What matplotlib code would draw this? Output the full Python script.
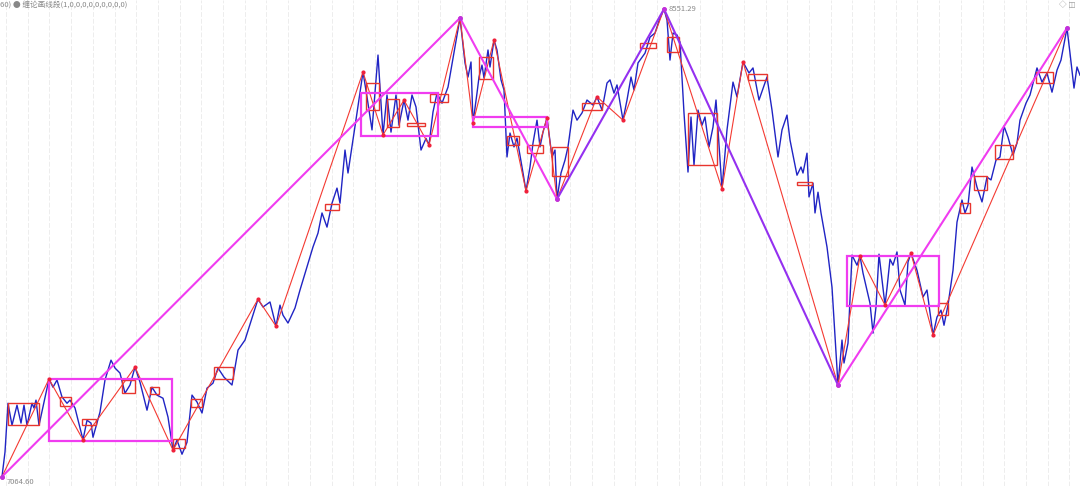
import matplotlib
matplotlib.use("Agg")
import matplotlib.pyplot as plt
from matplotlib.patches import Rectangle

plt.rcParams['font.family'] = ['Noto Sans CJK SC', 'DejaVu Sans']

# ---- level-1 strokes (blue pen): bar index, price ----
pen_x = [2, 5, 8, 12, 17, 21, 24, 27, 32, 34, 36, 39, 49, 53, 57, 62, 67, 70, 75, 83, 87, 91, 93,
         100, 105, 111, 115, 120, 125, 130, 135, 140, 147, 152, 157, 163, 168, 173, 177, 182, 187,
         192, 197, 202, 207, 213, 218, 224, 232, 238, 245, 258, 263, 270, 276, 280, 283, 288, 295,
         300, 310, 313, 318, 322, 327, 332, 337, 340, 345, 348, 353, 357, 363, 367, 372, 378, 383,
         387, 391, 396, 399, 404, 408, 412, 416, 421, 426, 429, 433, 437, 442, 448, 460, 465, 468,
         471, 473, 477, 479, 482, 484, 488, 490, 494, 497, 501, 504, 507, 510, 514, 517, 522, 526,
         530, 533, 537, 540, 543, 547, 552, 555, 557, 561, 565, 568, 573, 577, 582, 587, 593, 597,
         602, 607, 610, 614, 617, 623, 627, 631, 634, 638, 645, 650, 655, 660, 664, 667, 670, 673,
         677, 680, 684, 688, 691, 694, 698, 702, 705, 709, 713, 716, 722, 727, 733, 737, 743, 749,
         753, 759, 767, 772, 778, 782, 787, 790, 797, 801, 803, 807, 809, 813, 815, 818, 821, 827,
         832, 838, 842, 844, 848, 852, 857, 860, 863, 870, 873, 876, 879, 885, 887, 890, 893, 897,
         900, 905, 908, 911, 917, 923, 927, 931, 933, 937, 941, 944, 948, 953, 957, 962, 965, 968,
         972, 977, 982, 987, 991, 996, 1000, 1004, 1008, 1013, 1017, 1020, 1026, 1030, 1037, 1042,
         1047, 1052, 1057, 1061, 1067, 1070, 1074, 1077, 1080]
pen_y = [7064.6, 7143, 7298, 7228, 7292, 7235, 7292, 7228, 7298, 7283, 7308, 7228, 7375, 7349,
         7372, 7318, 7298, 7308, 7283, 7182, 7244, 7235, 7190, 7270, 7372, 7435, 7410, 7394, 7330,
         7356, 7413, 7365, 7276, 7349, 7324, 7314, 7254, 7149, 7181, 7136, 7174, 7324, 7302, 7267,
         7346, 7362, 7410, 7381, 7356, 7467, 7499, 7629, 7604, 7620, 7543, 7610, 7578, 7553, 7601,
         7658, 7763, 7795, 7839, 7903, 7858, 7934, 7982, 7934, 8103, 8030, 8135, 8221, 8351, 8272,
         8167, 8405, 8151, 8278, 8160, 8278, 8182, 8262, 8198, 8278, 8240, 8103, 8140, 8119, 8224,
         8284, 8252, 8303, 8523, 8380, 8335, 8383, 8189, 8284, 8335, 8373, 8332, 8421, 8367, 8453,
         8421, 8326, 8294, 8081, 8157, 8113, 8141, 8049, 7973, 8049, 8125, 8198, 8113, 8160, 8205,
         8081, 8103, 7947, 8030, 8071, 8113, 8230, 8198, 8221, 8262, 8246, 8272, 8230, 8316, 8326,
         8284, 8310, 8198, 8262, 8335, 8294, 8380, 8411, 8462, 8475, 8523, 8551.29, 8516, 8389,
         8475, 8469, 8446, 8221, 8033, 8208, 8055, 8230, 8182, 8208, 8113, 8176, 8262, 7979, 8167,
         8319, 8272, 8383, 8348, 8364, 8262, 8335, 8230, 8081, 8167, 8214, 8135, 8023, 8049, 8030,
         8093, 7954, 7998, 7903, 7969, 7903, 7795, 7667, 7356, 7499, 7426, 7489, 7769, 7737, 7766,
         7712, 7616, 7521, 7604, 7772, 7610, 7664, 7756, 7737, 7779, 7658, 7610, 7747, 7775, 7721,
         7636, 7658, 7562, 7515, 7572, 7594, 7546, 7610, 7721, 7874, 7944, 7903, 7928, 8049, 7985,
         7938, 8017, 8008, 8071, 8081, 8179, 8144, 8087, 8125, 8198, 8252, 8278, 8364, 8319, 8348,
         8287, 8357, 8389, 8491, 8411, 8300, 8367, 8341]

# ---- level-2 segments (red) ----
seg_x = [2, 49, 83, 135, 173, 258, 276, 363, 383, 404, 429, 460, 473, 494, 526, 547, 557, 597,
         623, 664, 722, 743, 838, 860, 885, 911, 933, 1067]
seg_y = [7064.6, 7375, 7182, 7413, 7149, 7629, 7543, 8351, 8151, 8262, 8119, 8523, 8189, 8453,
         7973, 8205, 7947, 8272, 8198, 8551.29, 7979, 8383, 7356, 7766, 7610, 7775, 7515, 8491]

# ---- level-3 segments (magenta / violet) ----
big_x = [2, 460, 557, 664, 838, 1067]
big_y = [7064.6, 8523, 7947, 8551.29, 7356, 8491]
big_colors = ['#f03cf0', '#f03cf0', '#9430f0', '#9430f0', '#f03cf0']

# ---- level-3 pivot boxes: x0, x1, top, bottom ----
big_box_x0 = [49, 361, 473, 847]
big_box_x1 = [172, 438, 547, 939]
big_box_top = [7375, 8284, 8208, 7766]
big_box_bot = [7178, 8148, 8176, 7607]

# ---- level-2 pivot boxes ----
box_x0 = [8, 60, 82, 122, 150, 173, 191, 214, 325, 366, 387, 407, 430, 479, 507, 527, 552, 582,
          640, 667, 688, 748, 797, 938, 960, 974, 995, 1036]
box_x1 = [39, 71, 96, 135, 159, 185, 202, 233, 339, 379, 399, 425, 448, 493, 519, 543, 568, 602,
          656, 679, 717, 767, 812, 948, 970, 987, 1013, 1053]
box_top = [7298, 7318, 7248, 7372, 7349, 7184, 7311, 7413, 7931, 8316, 8265, 8189, 8281, 8399,
           8148, 8119, 8113, 8252, 8443, 8462, 8221, 8345, 8001, 7616, 7935, 8020, 8119, 8351]
box_bot = [7228, 7289, 7228, 7330, 7327, 7155, 7286, 7375, 7912, 8230, 8176, 8179, 8256, 8329,
           8119, 8093, 8020, 8230, 8427, 8415, 8055, 8326, 7992, 7578, 7903, 7976, 8074, 8316]

title_text = ",60) ● 缠论画线段(1,0,0,0,0,0,0,0,0,0)"
high_label = "8551.29"
low_label = "7064.60"

fig = plt.figure(figsize=(10.8, 4.86), dpi=100)
ax = fig.add_axes([0, 0, 1, 1])
ax.set_xlim(0, 1080)
ax.set_ylim(7035, 8580)
for s in ax.spines.values():
    s.set_visible(False)
ax.set_xticks([6 + 21.7 * k for k in range(50)])
ax.set_yticks([])
ax.tick_params(length=0, labelbottom=False, labelleft=False)
ax.grid(axis='x', color='#ededed', lw=0.7, ls=(0, (5, 2)))
ax.set_axisbelow(True)

# blue pen
ax.plot(pen_x, pen_y, color='#2024c4', lw=1.0, zorder=3)

# red segments
ax.plot(seg_x, seg_y, color='#f43a32', lw=0.8, zorder=4)
ax.plot(seg_x, seg_y, 'o', color='#f0203a', ms=2.0, zorder=6)

# red pivot boxes
for x0, x1, t, b in zip(box_x0, box_x1, box_top, box_bot):
    ax.add_patch(Rectangle((x0, b), x1 - x0, t - b, fill=False, ec='#e8352e', lw=1.0, zorder=5))

# magenta pivot boxes
for x0, x1, t, b in zip(big_box_x0, big_box_x1, big_box_top, big_box_bot):
    ax.add_patch(Rectangle((x0, b), x1 - x0, t - b, fill=False, ec='#f03cf0', lw=1.6, zorder=5))

# big segments
for i in range(len(big_x) - 1):
    ax.plot(big_x[i:i + 2], big_y[i:i + 2], color=big_colors[i], lw=1.5, zorder=6)
ax.plot(big_x, big_y, 'o', color='#c030e0', ms=2.5, zorder=7)

# labels
ax.text(-2, 8576, title_text, fontsize=5.5, color='#888888', va='top', ha='left')
ax.text(big_x[3] + 5, big_y[3], high_label, fontsize=5.5, color='#888888', va='center', ha='left')
ax.text(big_x[0] + 5, big_y[0] - 3, low_label, fontsize=5.5, color='#888888', va='top', ha='left')
ax.text(1076, 8576, "◇ ◫", fontsize=5.5, color='#999999', va='top', ha='right')

fig.savefig("out.png", dpi=100, facecolor='white')
